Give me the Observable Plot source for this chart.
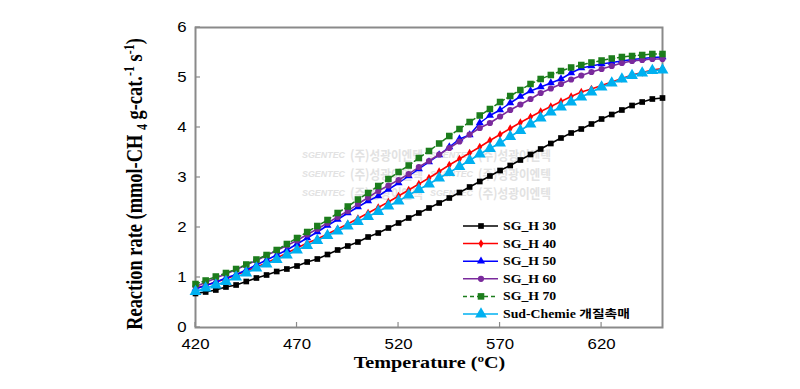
<!DOCTYPE html>
<html><head><meta charset="utf-8">
<script src="https://cdn.jsdelivr.net/npm/d3@7"></script>
<script src="https://cdn.jsdelivr.net/npm/@observablehq/plot@0.6"></script>
<style>body{margin:0;background:#fff}#chart svg{display:block}</style>
</head><body><div id="chart"></div>
<script>
const temperatures = [420,425,430,435,440,445,450,455,460,465,470,475,480,485,490,495,500,505,510,515,520,525,530,535,540,545,550,555,560,565,570,575,580,585,590,595,600,605,610,615,620,625,630,635,640,645,650];
const seriesNames = ["SG_H 30","SG_H 40","SG_H 50","SG_H 60","SG_H 70","Sud-Chemie 개질촉매"];
const sgH30 = [0.68,0.71,0.75,0.81,0.85,0.92,0.99,1.05,1.12,1.17,1.23,1.31,1.37,1.46,1.55,1.63,1.71,1.81,1.89,1.99,2.09,2.19,2.29,2.39,2.49,2.59,2.70,2.81,2.92,3.03,3.14,3.24,3.35,3.46,3.57,3.68,3.79,3.89,3.97,4.07,4.17,4.26,4.35,4.44,4.51,4.57,4.59];
const sgH40 = [0.79,0.84,0.91,0.97,1.05,1.13,1.21,1.29,1.39,1.49,1.59,1.69,1.77,1.87,1.97,2.07,2.18,2.29,2.40,2.51,2.63,2.75,2.87,2.99,3.12,3.25,3.37,3.49,3.61,3.74,3.86,3.98,4.10,4.21,4.32,4.42,4.52,4.62,4.71,4.77,4.84,4.91,4.98,5.05,5.10,5.15,5.18];
const sgH50 = [0.77,0.84,0.91,0.99,1.06,1.15,1.25,1.35,1.45,1.55,1.67,1.79,1.91,2.04,2.16,2.29,2.41,2.53,2.63,2.76,2.89,3.03,3.17,3.31,3.45,3.61,3.77,3.85,4.09,4.24,4.35,4.49,4.62,4.73,4.81,4.89,4.97,5.09,5.19,5.23,5.27,5.30,5.33,5.36,5.38,5.40,5.41];
const sgH60 = [0.82,0.90,0.99,1.07,1.16,1.25,1.34,1.44,1.54,1.64,1.74,1.86,1.97,2.09,2.21,2.33,2.47,2.60,2.73,2.84,2.95,3.07,3.21,3.33,3.46,3.59,3.72,3.86,3.99,4.09,4.22,4.35,4.46,4.57,4.69,4.78,4.87,4.96,5.04,5.11,5.17,5.23,5.29,5.33,5.35,5.37,5.37];
const sgH70 = [0.87,0.94,1.02,1.09,1.17,1.26,1.36,1.45,1.55,1.67,1.79,1.91,2.03,2.15,2.29,2.42,2.56,2.69,2.83,2.97,3.11,3.24,3.39,3.53,3.68,3.83,3.97,4.11,4.24,4.37,4.51,4.63,4.75,4.87,4.97,5.05,5.13,5.20,5.25,5.30,5.34,5.38,5.41,5.43,5.45,5.47,5.47];
const sudChemie = [0.72,0.79,0.85,0.92,1.01,1.09,1.19,1.27,1.36,1.45,1.55,1.64,1.74,1.84,1.93,2.03,2.12,2.22,2.32,2.43,2.53,2.65,2.76,2.87,2.99,3.10,3.22,3.34,3.47,3.58,3.69,3.82,3.94,4.07,4.19,4.31,4.41,4.51,4.61,4.71,4.81,4.89,4.97,5.04,5.09,5.14,5.15];
const xTicks = [420,470,520,570,620];
const yTicks = [0,1,2,3,4,5,6];
const xLabel = "Temperature (ºC)";
const watermarkLogo = "SGENTEC";
const watermarkText = "(주)성광이엔텍";

const seriesValues = [sgH30, sgH40, sgH50, sgH60, sgH70, sudChemie];
const seriesStyles = [
  {color:"#000000", symbol:"square", r:3.2, dash:null},
  {color:"#ff0000", symbol:"diamond", r:2.6, dash:null},
  {color:"#0000ff", symbol:"triangle", r:3.0, dash:null},
  {color:"#7a2a9c", symbol:"circle", r:3.1, dash:null},
  {color:"#1c7d1c", symbol:"square", r:3.7, dash:"4,3"},
  {color:"#00b0f0", symbol:"triangle", r:4.4, dash:null}
];

const rows = [];
seriesNames.forEach((name, i) => temperatures.forEach((t, j) => rows.push({series:name, t, v:seriesValues[i][j]})));

const W = 800, H = 389, ML = 195, MR = 138, MT = 27, MB = 62;
const marks = [
  Plot.frame({stroke:"#8a8a8a", strokeWidth:2}),
  Plot.axisX({ticks:xTicks, tickSize:0, tickPadding:12, label:null, tickFormat:d=>String(d)}),
  Plot.axisY({ticks:yTicks, tickSize:0, tickPadding:9, label:null, tickFormat:d=>String(d)})
];
seriesNames.forEach((name, i) => {
  const st = seriesStyles[i];
  const data = rows.filter(d => d.series === name);
  marks.push(Plot.line(data, {x:"t", y:"v", stroke:st.color, strokeWidth:1.5, strokeDasharray:st.dash || undefined}));
  marks.push(Plot.dot(data, {x:"t", y:"v", symbol:st.symbol, r:st.r, fill:st.color, stroke:"none"}));
});

const plot = Plot.plot({
  width:W, height:H, marginLeft:ML, marginRight:MR, marginTop:MT, marginBottom:MB,
  x:{domain:[420,650]}, y:{domain:[0,6]},
  style:{fontFamily:"'Liberation Sans', Arial, sans-serif", fontSize:"14px", color:"#000", background:"#fff", overflow:"visible"},
  marks
});
document.getElementById("chart").appendChild(plot);

const svg = d3.select(plot);
const sx = plot.scale("x"), sy = plot.scale("y");
const x0 = sx.apply(420), x1 = sx.apply(650), y0 = sy.apply(0), y1 = sy.apply(6);

svg.selectAll("g[aria-label='x-axis tick label'] text, g[aria-label='y-axis tick label'] text")
  .attr("transform", function(){ return (this.getAttribute("transform")||"") + " scale(1.2,1)"; });
svg.selectAll("g[aria-label='x-axis tick label'], g[aria-label='y-axis tick label']").attr("fill", "#000");

// watermark under the data
const wm = svg.insert("g", ":first-child").attr("fill", "#e2e2e2").attr("font-weight", "bold").attr("text-anchor", "start");
[155, 174, 193].forEach(yy => {
  [0, 128].forEach(dx => {
    wm.append("text").attr("x", 302 + dx).attr("y", yy + 3).attr("font-family", "'Liberation Sans', sans-serif")
      .attr("font-style", "italic").attr("font-size", 9).attr("textLength", 43).attr("lengthAdjust", "spacingAndGlyphs").text(watermarkLogo);
    wm.append("text").attr("x", 350 + dx).attr("y", yy + 5).attr("font-family", "'Noto Sans CJK KR', sans-serif")
      .attr("font-size", 13).attr("textLength", 73).attr("lengthAdjust", "spacingAndGlyphs").text(watermarkText);
  });
});
svg.insert("rect", ":first-child").attr("width", W).attr("height", H).attr("fill", "#fff");

// inward ticks
const tk = svg.append("g").attr("stroke", "#8a8a8a").attr("stroke-width", 1.2);
xTicks.forEach(t => tk.append("line").attr("x1", sx.apply(t)).attr("x2", sx.apply(t)).attr("y1", y0).attr("y2", y0 - 5));
yTicks.forEach(t => tk.append("line").attr("x1", x0).attr("x2", x0 + 5).attr("y1", sy.apply(t)).attr("y2", sy.apply(t)));

// axis titles
const serif = "'Liberation Serif', 'Times New Roman', serif";
svg.append("text").attr("transform", `translate(${(x0 + x1) / 2 + 1},${y0 + 41}) scale(1.2,1)`)
  .attr("text-anchor", "middle").attr("font-family", serif).attr("font-weight", "bold").attr("font-size", 16.8).attr("fill", "#000").text(xLabel);

const yt = svg.append("text").attr("transform", `translate(142,${(y0 + y1) / 2 + 7}) scale(1.2,1) rotate(-90)`)
  .attr("text-anchor", "middle").attr("font-family", serif).attr("font-weight", "bold").attr("font-size", 18.4).attr("fill", "#000");
yt.append("tspan").text("Reaction rate (mmol-CH ");
yt.append("tspan").attr("font-size", 12).attr("dy", 4).text("4");
yt.append("tspan").attr("dy", -4).text(" g-cat.");
yt.append("tspan").attr("font-size", 12).attr("dy", -7).text("-1");
yt.append("tspan").attr("dy", 7).text(" s");
yt.append("tspan").attr("font-size", 12).attr("dy", -7).text("-1");
yt.append("tspan").attr("dy", 7).text(")");

// legend
const lg = svg.append("g").attr("text-anchor", "start");
const rowY = [226, 243.6, 261.2, 278.8, 296.4, 314];
seriesNames.forEach((name, i) => {
  const st = seriesStyles[i];
  const g = lg.append("g").attr("transform", `translate(0,${rowY[i]})`);
  g.append("line").attr("x1", 463).attr("x2", 498).attr("stroke", st.color).attr("stroke-width", 1.5)
    .attr("stroke-dasharray", st.dash);
  if (st.symbol === "circle") {
    g.append("circle").attr("cx", 481).attr("r", st.r).attr("fill", st.color);
  } else {
    const sym = {square:d3.symbolSquare, diamond:d3.symbolDiamond, triangle:d3.symbolTriangle}[st.symbol];
    g.append("path").attr("transform", "translate(481,0)").attr("d", d3.symbol(sym, st.r * st.r * Math.PI)()).attr("fill", st.color);
  }
  g.append("text").attr("transform", "translate(503,4) scale(1.2,1)").attr("text-anchor", "start")
    .attr("font-family", serif + ", 'Noto Sans CJK KR'").attr("font-weight", "bold").attr("font-size", 11.5).attr("fill", "#000").text(name);
});
</script>
</body></html>
